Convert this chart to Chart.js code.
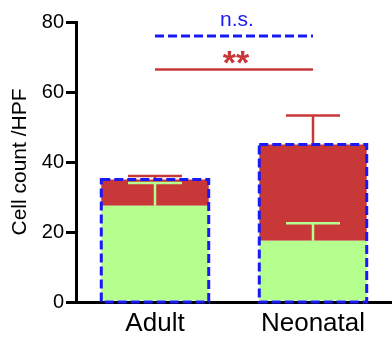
<!DOCTYPE html>
<html>
<head>
<meta charset="utf-8">
<script src="https://cdn.jsdelivr.net/npm/chart.js@4.4.1/dist/chart.umd.min.js"></script>
<style>
  html, body { margin: 0; padding: 0; background: #fff; }
  #wrap { width: 392px; height: 342px; }
</style>
</head>
<body>
<div id="wrap"><canvas id="chart"></canvas></div>
<script>
const categories = ['Adult', 'Neonatal'];
const greenValues = [27.5, 17.5];
const redValues = [7.5, 27.5];      // stacked on top of green
const greenErrTop = [34, 22.5];
const totalErrTop = [36, 53.3];
const yTicks = [0, 20, 40, 60, 80];
const sigStars = { y: 66.4, label: '**' };
const sigNs = { y: 76, label: 'n.s.' };

const GREEN = 'rgb(181,255,143)';
const RED = 'rgb(200,56,56)';
const BLUE = 'rgb(25,25,245)';
const FONT = '"Liberation Sans", Arial, sans-serif';

const overlay = {
    id: 'overlay',
    afterDatasetsDraw(chart) {
        const ctx = chart.ctx;
        const x = chart.scales.x, y = chart.scales.y;
        const bars = chart.getDatasetMeta(0).data;
        ctx.save();

        // error bars
        const capHalf = 27;
        function errBar(cx, from, to, color) {
            ctx.strokeStyle = color;
            ctx.lineWidth = 2.5;
            ctx.beginPath();
            ctx.moveTo(cx, y.getPixelForValue(from));
            ctx.lineTo(cx, y.getPixelForValue(to));
            ctx.moveTo(cx - capHalf, y.getPixelForValue(to));
            ctx.lineTo(cx + capHalf, y.getPixelForValue(to));
            ctx.stroke();
        }
        categories.forEach((c, i) => {
            const cx = x.getPixelForValue(i);
            errBar(cx, greenValues[i], greenErrTop[i], GREEN);
            errBar(cx, greenValues[i] + redValues[i], totalErrTop[i], RED);
        });

        // dashed outline around the full stacked bar
        ctx.strokeStyle = BLUE;
        ctx.lineWidth = 3;
        ctx.setLineDash([9, 4]);
        bars.forEach((b, i) => {
            const half = b.width / 2;
            const top = y.getPixelForValue(greenValues[i] + redValues[i]);
            const bottom = y.getPixelForValue(0);
            ctx.strokeRect(b.x - half, top, b.width, bottom - top);
        });

        // significance lines
        const x0 = x.getPixelForValue(0), x1 = x.getPixelForValue(1);
        const mid = (x0 + x1) / 2;
        ctx.beginPath();
        const yn = y.getPixelForValue(sigNs.y);
        ctx.moveTo(x0, yn); ctx.lineTo(x1, yn);
        ctx.stroke();
        ctx.setLineDash([]);
        ctx.strokeStyle = RED;
        ctx.lineWidth = 2.5;
        ctx.beginPath();
        const ys = y.getPixelForValue(sigStars.y);
        ctx.moveTo(x0, ys); ctx.lineTo(x1, ys);
        ctx.stroke();

        ctx.textAlign = 'center';
        ctx.textBaseline = 'alphabetic';
        ctx.fillStyle = RED;
        ctx.font = 'bold 34px ' + FONT;
        ctx.fillText(sigStars.label, mid + 2, ys + 4);
        ctx.fillStyle = BLUE;
        ctx.font = '21px ' + FONT;
        ctx.fillText(sigNs.label, mid + 3, yn - 10);
        ctx.restore();
    }
};

new Chart(document.getElementById('chart'), {
    type: 'bar',
    data: {
        labels: categories,
        datasets: [
            { label: 'green', data: greenValues, backgroundColor: GREEN, borderWidth: 0 },
            { label: 'red', data: redValues, backgroundColor: RED, borderWidth: 0 }
        ]
    },
    options: {
        animation: false,
        responsive: true,
        maintainAspectRatio: false,
        devicePixelRatio: 1,
        layout: { padding: { top: 22, right: 0, left: 0, bottom: 0 } },
        plugins: { legend: { display: false }, tooltip: { enabled: false } },
        datasets: { bar: { barPercentage: 0.68, categoryPercentage: 1 } },
        scales: {
            x: {
                stacked: true,
                afterFit: axis => { axis.height = 40; },
                grid: { display: true, drawOnChartArea: false, drawTicks: false },
                border: { color: '#000', width: 3 },
                ticks: {
                    color: '#000',
                    padding: 6,
                    font: { family: FONT, size: 26 }
                }
            },
            y: {
                stacked: true,
                min: 0, max: 80,
                afterFit: axis => { axis.width = 76; },
                afterBuildTicks: axis => { axis.ticks = yTicks.map(v => ({ value: v })); },
                grid: { display: true, drawOnChartArea: false, drawTicks: true, tickLength: 10, color: '#000', lineWidth: 3 },
                border: { color: '#000', width: 3 },
                title: {
                    display: true,
                    text: 'Cell count /HPF',
                    color: '#000',
                    padding: { top: 8, bottom: 4 },
                    font: { family: FONT, size: 21 }
                },
                ticks: {
                    color: '#000',
                    padding: 2,
                    font: { family: FONT, size: 20 }
                }
            }
        }
    },
    plugins: [overlay]
});
</script>
</body>
</html>
